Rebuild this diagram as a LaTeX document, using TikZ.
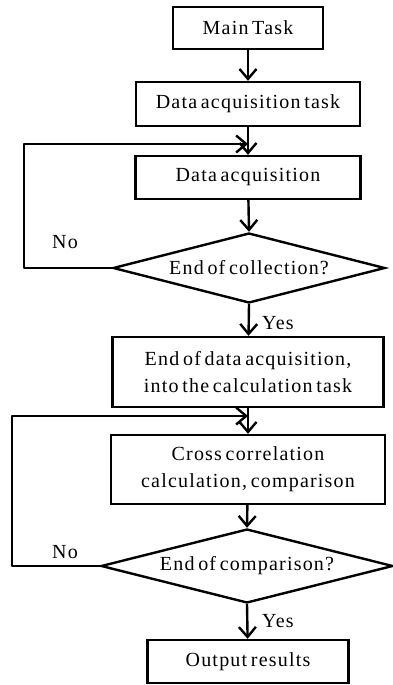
\documentclass[tikz,border=0pt]{standalone}
\usepackage{fontspec}
\setmainfont{Liberation Serif}[LetterSpace=6.0, WordSpace=0.6]
\usetikzlibrary{shapes.geometric,arrows.meta}

\tikzset{
  every node/.style={font=\fontsize{20}{27}\selectfont, text=black},
  procbox/.style={draw=black, line width=2.4pt, rectangle, inner sep=0pt, align=center},
  decision/.style={draw=black, line width=2.4pt, diamond, inner sep=0pt},
  flow/.style={line width=2.4pt, -{Straight Barb[length=10pt, width=17pt]}},
  loopline/.style={line width=2.4pt, line join=round, -{Straight Barb[length=10pt, width=17pt]}},
  branch/.style={inner sep=0pt}
}

\begin{document}
\begin{tikzpicture}[x=1pt, y=-1pt]
  \fill[white] (0,0) rectangle (392,685);
  \useasboundingbox (0,0) rectangle (392,685);

  % process boxes
  \node[procbox, minimum width=150, minimum height=42] (main) at (248,28) {Main Task};
  \node[procbox, minimum width=224, minimum height=44] (acqtask) at (248,104) {Data acquisition task};
  \node[procbox, minimum width=225, minimum height=43] (acq) at (248,177.5) {Data acquisition};
  \node[decision, minimum width=272, minimum height=70,
        label={[font=\fontsize{20}{27}\selectfont]center:End of collection?}] (endcoll) at (249,268) {};
  \node[procbox, minimum width=271, minimum height=70] (calctask) at (248,372)
       {End of data acquisition,\\into the calculation task};
  \node[procbox, minimum width=274, minimum height=69] (xcorr) at (248,469.5)
       {Cross correlation\\calculation, comparison};
  \node[decision, minimum width=292, minimum height=74,
        label={[font=\fontsize{20}{27}\selectfont]center:End of comparison?}] (endcomp) at (247,566) {};
  \node[procbox, minimum width=201, minimum height=43] (out) at (248,661.5) {Output results};

  % loop entry points
  \coordinate (in1) at (248,144);
  \coordinate (in2) at (248,416);

  % main flow
  \draw[flow] (main) -- (acqtask);
  \draw[flow] (acqtask) -- (acq);
  \draw[flow] (acq) -- (endcoll.north);
  \draw[flow] (endcoll.south) -- (calctask);
  \draw[flow] (calctask) -- (xcorr);
  \draw[flow] (xcorr) -- (endcomp.north);
  \draw[flow] (endcomp.south) -- (out);

  % feedback loops
  \draw[loopline] (endcoll.west) -- (24,268) -- (24,144) -- (in1);
  \draw[loopline] (endcomp.west) -- (12,566) -- (12,416) -- (in2);

  % branch labels
  \node[branch] (no1) at (65,242) {No};
  \node[branch, anchor=west] (yes1) at (262,323) {Yes};
  \node[branch] (no2) at (65,552) {No};
  \node[branch, anchor=west] (yes2) at (262,621) {Yes};
\end{tikzpicture}
\end{document}
